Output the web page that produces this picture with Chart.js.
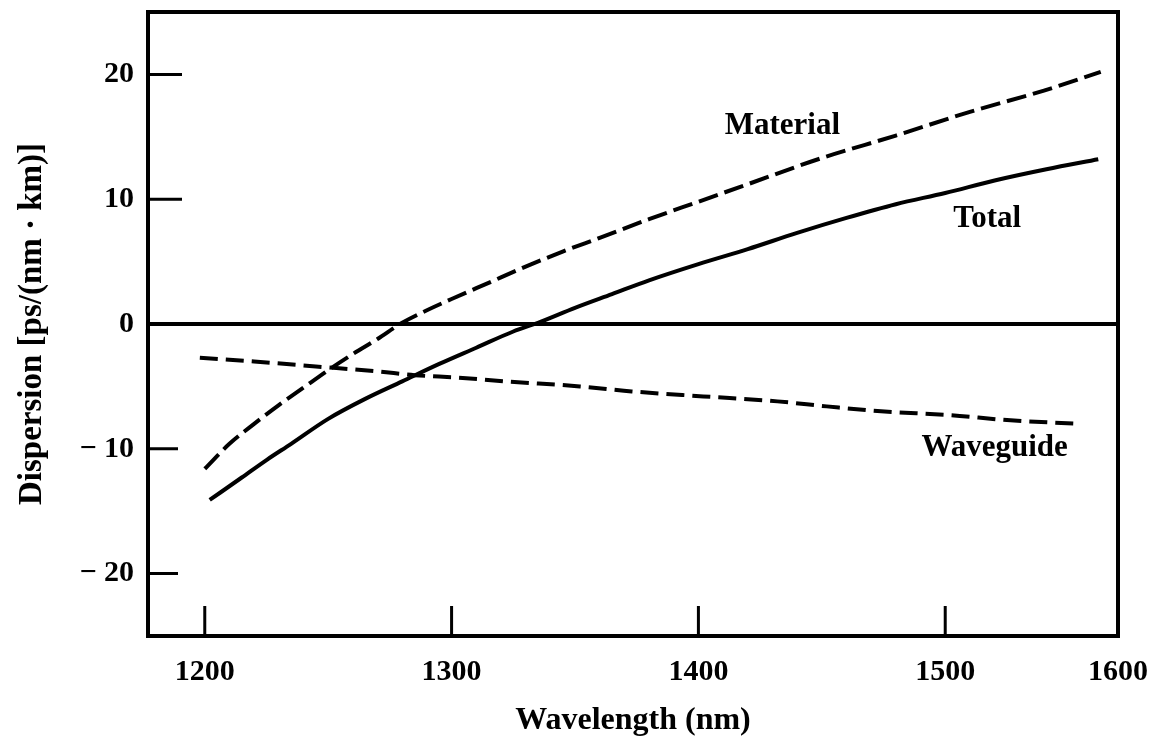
<!DOCTYPE html>
<html>
<head>
<meta charset="utf-8">
<script src="https://cdn.jsdelivr.net/npm/chart.js@4.4.1/dist/chart.umd.min.js"></script>
<style>
    html, body { margin: 0; padding: 0; background: #fff; }
    #wrap { width: 1150px; height: 742px; }
</style>
</head>
<body>
<div id="wrap"><canvas id="dispersionChart" width="1150" height="742"></canvas></div>
<script>
// wavelength (nm) / dispersion ps/(nm km)
const materialWl = [1200, 1210, 1220, 1230, 1240, 1250, 1260, 1270, 1280, 1290, 1300, 1315, 1330, 1345, 1360, 1380, 1400, 1420, 1450, 1480, 1510, 1540, 1563];
const materialD  = [-11.6, -9.6, -8.0, -6.5, -5.1, -3.7, -2.4, -1.2, 0.1, 1.1, 2.0, 3.3, 4.6, 5.8, 6.9, 8.4, 9.8, 11.2, 13.3, 15.1, 17.0, 18.7, 20.2];

const totalWl = [1202, 1215, 1225, 1235, 1250, 1265, 1280, 1295, 1310, 1325, 1335, 1350, 1365, 1380, 1400, 1420, 1440, 1460, 1480, 1500, 1520, 1541, 1562];
const totalD  = [-14.1, -12.3, -10.9, -9.6, -7.6, -6.0, -4.6, -3.2, -1.9, -0.6, 0.1, 1.3, 2.4, 3.5, 4.8, 6.0, 7.3, 8.5, 9.6, 10.5, 11.5, 12.4, 13.2];

const waveguideWl = [1198, 1220, 1245, 1270, 1285, 1303, 1322, 1352, 1373, 1402, 1432, 1452, 1474, 1502, 1525, 1554];
const waveguideD  = [-2.7, -3.0, -3.4, -3.8, -4.1, -4.3, -4.6, -5.0, -5.4, -5.8, -6.2, -6.6, -7.0, -7.3, -7.7, -8.0];

// the scan squeezes the last interval, so the right edge carries the 1600 label
const xTickValues = [1200, 1300, 1400, 1500, 1570];
const xTickLabels = ['1200', '1300', '1400', '1500', '1600'];
const yTickValues = [-20, -10, 0, 10, 20];
const yTickLabels = ['\u2212 20', '\u2212 10', '0', '10', '20'];

const curveNames = ['Material', 'Total', 'Waveguide'];

const FONT = "'Liberation Serif', 'DejaVu Serif', serif";

function pts(xs, ys) {
    return xs.map((x, i) => ({ x: x, y: ys[i] }));
}

// frame + inward tick marks
const frameTicks = {
    id: 'frameTicks',
    afterDatasetsDraw(chart) {
        const { ctx, chartArea: a, scales: { x, y } } = chart;
        ctx.save();
        ctx.strokeStyle = '#000';
        ctx.lineWidth = 3;
        ctx.beginPath();
        x.ticks.forEach(t => {
            if (t.value >= x.max) return;
            const px = x.getPixelForValue(t.value);
            ctx.moveTo(px, a.bottom);
            ctx.lineTo(px, a.bottom - 30);
        });
        y.ticks.forEach(t => {
            if (t.value === 0) return;
            const py = y.getPixelForValue(t.value);
            ctx.moveTo(a.left, py);
            ctx.lineTo(a.left + (t.value > 0 ? 34 : 30), py);
        });
        ctx.stroke();
        ctx.lineWidth = 4;
        ctx.strokeRect(a.left, a.top, a.right - a.left, a.bottom - a.top);
        ctx.restore();
    }
};

// curve names written inside the plot
const curveLabels = {
    id: 'curveLabels',
    afterDatasetsDraw(chart, args, opts) {
        const { ctx, scales: { x, y } } = chart;
        ctx.save();
        ctx.fillStyle = '#000';
        ctx.font = opts.font;
        ctx.textAlign = 'center';
        ctx.textBaseline = 'middle';
        opts.items.forEach(it => {
            ctx.fillText(it.text, x.getPixelForValue(it.x), y.getPixelForValue(it.y));
        });
        ctx.restore();
    }
};

const ctx = document.getElementById('dispersionChart').getContext('2d');

new Chart(ctx, {
    type: 'line',
    data: {
        datasets: [
            {
                label: curveNames[0],
                data: pts(materialWl, materialD),
                borderColor: '#000',
                borderWidth: 4,
                borderDash: [20, 7],
                pointRadius: 0,
                cubicInterpolationMode: 'monotone'
            },
            {
                label: curveNames[1],
                data: pts(totalWl, totalD),
                borderColor: '#000',
                borderWidth: 4,
                pointRadius: 0,
                cubicInterpolationMode: 'monotone'
            },
            {
                label: curveNames[2],
                data: pts(waveguideWl, waveguideD),
                borderColor: '#000',
                borderWidth: 4,
                borderDash: [18, 8],
                pointRadius: 0,
                cubicInterpolationMode: 'monotone'
            }
        ]
    },
    options: {
        responsive: false,
        animation: false,
        devicePixelRatio: 1,
        layout: { padding: { top: 12, right: 32, left: 0, bottom: 0 } },
        plugins: {
            legend: { display: false },
            tooltip: { enabled: false },
            curveLabels: {
                font: "bold 31px " + FONT,
                items: [
                    { text: curveNames[0], x: 1434, y: 15.9 },
                    { text: curveNames[1], x: 1517, y: 8.4 },
                    { text: curveNames[2], x: 1520, y: -9.9 }
                ]
            }
        },
        scales: {
            x: {
                type: 'linear',
                min: 1177,
                max: 1570,
                afterBuildTicks: s => { s.ticks = xTickValues.map(v => ({ value: v })); },
                afterFit: s => { s.height = 106; s.paddingLeft = 0; s.paddingRight = 0; },
                grid: { display: false },
                border: { display: false },
                ticks: {
                    autoSkip: false,
                    maxRotation: 0,
                    padding: 10,
                    color: '#000',
                    font: { family: FONT, size: 30, weight: 'bold' },
                    callback: (v, i) => xTickLabels[i]
                },
                title: {
                    display: true,
                    text: 'Wavelength (nm)',
                    color: '#000',
                    font: { family: FONT, size: 32, weight: 'bold' },
                    padding: { top: 0, bottom: 2 }
                }
            },
            y: {
                type: 'linear',
                min: -25,
                max: 25,
                afterBuildTicks: s => { s.ticks = yTickValues.map(v => ({ value: v })); },
                afterFit: s => { s.width = 148; s.paddingTop = 0; s.paddingBottom = 0; },
                grid: {
                    drawTicks: false,
                    color: c => c.tick && c.tick.value === 0 ? '#000' : 'rgba(0,0,0,0)',
                    lineWidth: c => c.tick && c.tick.value === 0 ? 4 : 0
                },
                border: { display: false },
                ticks: {
                    padding: 14,
                    color: '#000',
                    font: { family: FONT, size: 30, weight: 'bold' },
                    callback: (v, i) => yTickLabels[i]
                },
                title: {
                    display: true,
                    text: 'Dispersion [ps/(nm \u00b7 km)]',
                    color: '#000',
                    font: { family: FONT, size: 33, weight: 'bold' },
                    padding: { top: 13, bottom: 0 }
                }
            }
        }
    },
    plugins: [frameTicks, curveLabels]
});
</script>
</body>
</html>
